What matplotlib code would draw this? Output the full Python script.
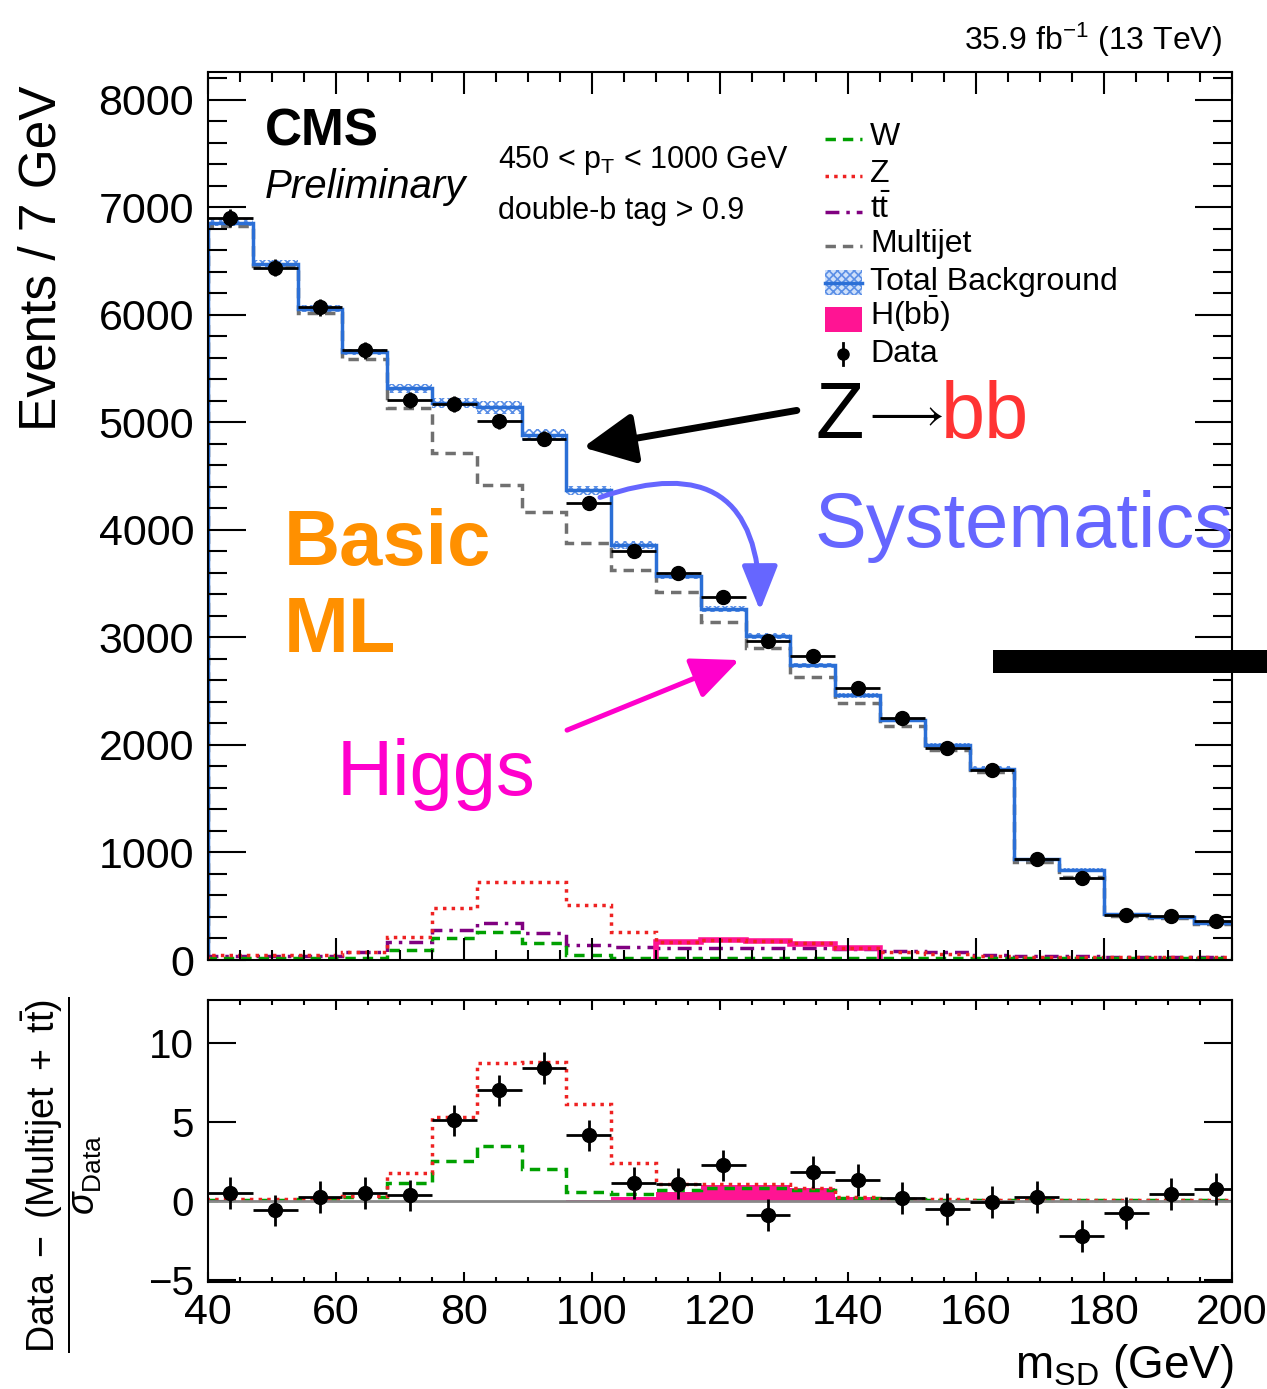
import numpy as np
import matplotlib
matplotlib.use('Agg')
import matplotlib.pyplot as plt
from matplotlib.patches import Rectangle
from matplotlib.lines import Line2D
from matplotlib.ticker import MultipleLocator, FixedLocator

plt.rcParams['font.family'] = ['Liberation Sans', 'DejaVu Sans']
plt.rcParams['mathtext.fontset'] = 'custom'
plt.rcParams['mathtext.rm'] = 'Liberation Sans'
plt.rcParams['mathtext.it'] = 'Liberation Sans:italic'
plt.rcParams['mathtext.bf'] = 'Liberation Sans:bold'
plt.rcParams['hatch.linewidth'] = 1.2

# binning: 7 GeV bins from 40 GeV
edges = np.arange(40, 202, 7)
centers = edges[:-1] + 3.5

data = [6900, 6440, 6070, 5670, 5210, 5170, 5010, 4850, 4250, 3800, 3600, 3375,
        2970, 2830, 2530, 2250, 1975, 1770, 935, 765, 415, 405, 365]
data_err = [83, 80, 78, 75, 72, 72, 71, 70, 65, 62, 60, 58,
            54, 53, 50, 47, 44, 42, 31, 28, 20, 20, 19]
total_bkg = [6860, 6478, 6060, 5655, 5316, 5180, 5140, 4885, 4368, 3860, 3572, 3265,
             3015, 2742, 2463, 2230, 1998, 1780, 935, 840, 430, 398, 344]
bkg_unc = [30, 30, 30, 30, 45, 45, 60, 55, 45, 35, 30, 30,
           25, 25, 25, 20, 20, 20, 15, 15, 10, 10, 10]
multijet = [6830, 6460, 6020, 5595, 5130, 4712, 4414, 4164, 3875, 3625, 3425, 3141,
            2905, 2635, 2390, 2180, 1950, 1745, 908, 771, 405, 388, 332]
z_bkg = [46, 46, 46, 74, 210, 483, 722, 725, 511, 260, 170, 183,
         180, 158, 112, 74, 56, 40, 30, 28, 26, 25, 24]
tt_bkg = [37, 37, 37, 74, 170, 279, 344, 251, 140, 121, 112, 112,
          112, 112, 105, 84, 70, 50, 40, 35, 30, 28, 27]
w_bkg = [20, 20, 20, 22, 93, 205, 260, 158, 46, 22, 20, 20,
         20, 20, 20, 20, 20, 20, 18, 18, 18, 18, 18]
higgs_top = [0, 0, 0, 0, 0, 0, 0, 0, 0, 0, 172, 182,
             178, 152, 112, 0, 0, 0, 0, 0, 0, 0, 0]

# lower panel: (Data - (Multijet + tt)) / sigma_Data
ratio_data = [0.5, -0.6, 0.25, 0.5, 0.35, 5.1, 7.0, 8.4, 4.15, 1.15, 1.1, 2.25,
              -0.9, 1.85, 1.33, 0.2, -0.5, -0.05, 0.25, -2.2, -0.77, 0.45, 0.76]
ratio_z = [0.1, 0.1, 0.15, 0.3, 1.75, 5.3, 8.75, 8.8, 6.15, 2.4, 1.1, 1.1,
           1.1, 0.8, 0.27, 0.15, 0.1, 0.05, 0.05, 0.05, 0.05, 0.05, 0.05]
ratio_w = [0.05, 0.05, 0.1, 0.25, 1.16, 2.5, 3.5, 2.0, 0.57, 0.44, 0.7, 0.85,
           0.85, 0.7, 0.2, 0.1, 0.05, 0.05, 0.05, 0.05, 0.05, 0.05, 0.05]
ratio_h = [0, 0, 0, 0, 0, 0, 0, 0, 0.03, 0.27, 0.57, 1.0,
           1.0, 0.8, 0.25, 0.08, 0, 0, 0, 0, 0, 0, 0]

blue = '#2b6fd6'
red = '#ee2222'
green = '#00a000'
purple = '#800080'
grey = '#707070'
pink = '#ff1493'

W, H = 1267, 1389
def fx(px):
    return px / W
def fy(py):
    return 1 - py / H

fig = plt.figure(figsize=(W / 100, H / 100), dpi=100)
ax = fig.add_axes([fx(208), fy(960), 1024 / W, 888 / H])
rax = fig.add_axes([fx(208), fy(1282), 1024 / W, 282 / H])

# ---- top panel
tb = np.array(total_bkg)
unc = np.array(bkg_unc)
ax.stairs(tb + unc, edges, baseline=tb - unc, fill=True, facecolor='none',
          edgecolor='#5b8fe6', hatch='xxxx', linewidth=0)
ax.stairs(multijet, edges, color=grey, lw=2.5, linestyle=(0, (3, 2)))
ax.stairs(tb, edges, color=blue, lw=2.5)
ax.stairs(tt_bkg, edges, color=purple, lw=2.5, linestyle=(0, (4, 2, 1, 2)))
ax.stairs(w_bkg, edges, color=green, lw=2.5, linestyle=(0, (3, 2)))
hg = np.array(higgs_top)
nz = np.nonzero(hg)[0]
ax.stairs(hg[nz[0]:nz[-1] + 1], edges[nz[0]:nz[-1] + 2], color=pink, lw=4)
ax.stairs(z_bkg, edges, color=red, lw=2.5, linestyle=(0, (1, 1.5)))
ax.errorbar(centers, data, xerr=3.5, yerr=data_err, fmt='o', color='k',
            ms=10, elinewidth=2, capsize=0, zorder=5)

ax.set_xlim(40, 200)
ax.set_ylim(0, 8260)
ax.xaxis.set_major_locator(MultipleLocator(20))
ax.xaxis.set_minor_locator(MultipleLocator(5))
ax.yaxis.set_major_locator(MultipleLocator(1000))
ax.yaxis.set_minor_locator(MultipleLocator(200))
ax.tick_params(which='both', direction='in', top=True, right=True, width=1.5)
ax.tick_params(axis='y', which='major', length=27, labelsize=31, pad=10)
ax.tick_params(axis='y', which='minor', length=14)
ax.tick_params(axis='x', which='major', length=16)
ax.tick_params(axis='x', which='minor', length=7)
ax.tick_params(labelbottom=False)
for s in ax.spines.values():
    s.set_linewidth(1.5)

# ---- ratio panel
rax.axhline(0, color='#888888', lw=2)
rax.stairs(ratio_h, edges, fill=True, color=pink, lw=0)
rax.stairs(ratio_w, edges, color=green, lw=2.5, linestyle=(0, (3, 2)))
rax.stairs(ratio_z, edges, color=red, lw=2.5, linestyle=(0, (1, 1.5)))
rax.errorbar(centers, ratio_data, xerr=3.5, yerr=1.0, fmt='o', color='k',
             ms=10, elinewidth=2, capsize=0, zorder=5)
rax.set_xlim(40, 200)
rax.set_ylim(-5.13, 12.72)
rax.xaxis.set_major_locator(MultipleLocator(20))
rax.xaxis.set_minor_locator(MultipleLocator(5))
rax.yaxis.set_major_locator(FixedLocator([-5, 0, 5, 10]))
rax.tick_params(which='both', direction='in', top=True, right=True, width=1.5)
rax.tick_params(axis='y', which='major', length=20, labelsize=29, pad=10)
rax.tick_params(axis='x', which='major', length=7, labelsize=31, pad=8)
rax.tick_params(axis='x', which='minor', length=3.6)
rax.set_yticklabels(['\u22125', '0', '5', '10'])
for s in rax.spines.values():
    s.set_linewidth(1.5)

# ---- labels
fig.text(fx(42), fy(258), 'Events / 7 GeV', rotation=90, ha='center', va='center', fontsize=37)
fig.text(fx(62), fy(1175), r'$\dfrac{\mathrm{Data\ -\ (Multijet\ +\ t\bar{t})}}{\sigma_{\mathrm{Data}}}$',
         rotation=90, ha='center', va='center', fontsize=27)
fig.text(fx(1234), fy(1378), r'm$_{\mathrm{SD}}$ (GeV)', ha='right', va='baseline', fontsize=33)
fig.text(fx(1222), fy(50), r'35.9 fb$^{-1}$ (13 TeV)', ha='right', va='baseline', fontsize=23)
fig.text(fx(265), fy(146), 'CMS', fontweight='bold', fontsize=37, va='baseline')
fig.text(fx(265), fy(198), 'Preliminary', fontstyle='italic', fontsize=29, va='baseline')
fig.text(fx(498), fy(168), r'450 < p$_{\mathrm{T}}$ < 1000 GeV', fontsize=22, va='baseline')
fig.text(fx(498), fy(219), 'double-b tag > 0.9', fontsize=22, va='baseline')

# ---- legend (drawn by hand, ROOT style)
hx0, hx1, tx = fx(825), fx(862), fx(870)
rows = [145, 182, 218, 252, 290, 325, 362]
labels = ['W', 'Z', r't$\bar{\mathrm{t}}$', 'Multijet', 'Total Background',
          r'H(b$\bar{\mathrm{b}}$)', 'Data']
for yb, lab in zip(rows, labels):
    fig.text(tx, fy(yb), lab, fontsize=23, va='baseline')
line_styles = [(green, (0, (3, 2))), (red, (0, (1, 1.5))), (purple, (0, (4, 2, 1, 2))),
               (grey, (0, (3, 2)))]
for yb, (c, ls) in zip(rows[:4], line_styles):
    fig.add_artist(Line2D([hx0, hx1], [fy(yb - 6), fy(yb - 6)], color=c, lw=2.5, linestyle=ls))
fig.add_artist(Rectangle((hx0, fy(295)), hx1 - hx0, 25 / H, facecolor='#cfe0fa',
                         edgecolor='#5b8fe6', hatch='xxxx', lw=0))
fig.add_artist(Line2D([hx0, hx1], [fy(283), fy(283)], color=blue, lw=2.5))
fig.add_artist(Rectangle((hx0, fy(332)), hx1 - hx0, 25 / H, facecolor=pink, lw=0))
fig.add_artist(Line2D([fx(843)], [fy(354)], marker='o', color='k', ms=8))
fig.add_artist(Line2D([fx(843), fx(843)], [fy(343), fy(365)], color='k', lw=2))

# ---- annotations
fig.text(fx(815), fy(438), 'Z', fontsize=57, va='baseline')
fig.text(fx(862), fy(426), r'$\longrightarrow$', fontsize=34, va='baseline')
fig.text(fx(941), fy(438), 'bb', fontsize=57, va='baseline', color='#ff3333')
fig.text(fx(815), fy(547), 'Systematics', fontsize=56, va='baseline', color='#6666ff')
fig.text(fx(284), fy(565), 'Basic', fontsize=56, fontweight='bold', va='baseline', color='#ff9000')
fig.text(fx(284), fy(652), 'ML', fontsize=56, fontweight='bold', va='baseline', color='#ff9000')
fig.text(fx(337), fy(795), 'Higgs', fontsize=56, va='baseline', color='#ff00cc')

ax.annotate('', xy=(98.6, 4768), xytext=(132.0, 5112),
            arrowprops=dict(arrowstyle='-|>,head_length=0.45,head_width=0.22', color='k',
                            lw=5, mutation_scale=70, shrinkA=0, shrinkB=0))
ax.annotate('', xy=(123.0, 2790), xytext=(96.1, 2138),
            arrowprops=dict(arrowstyle='-|>,head_length=0.45,head_width=0.2', color='#ff00cc',
                            lw=3.6, mutation_scale=65, shrinkA=0, shrinkB=0))
ax.annotate('', xy=(126.25, 3250), xytext=(101.25, 4303),
            arrowprops=dict(arrowstyle='-|>,head_length=0.5,head_width=0.2', color='#6666ff',
                            lw=3.6, mutation_scale=55, shrinkA=0, shrinkB=0,
                            connectionstyle='arc3,rad=-0.7'))
fig.add_artist(Rectangle((fx(993), fy(673)), (1267 - 993) / W, 23 / H, color='k', lw=0))

fig.savefig('out.png', dpi=100)
